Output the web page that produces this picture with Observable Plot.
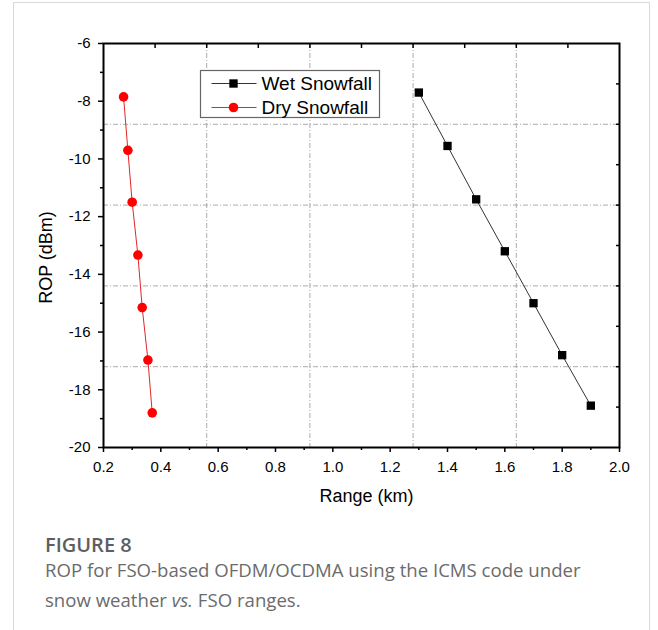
<!DOCTYPE html>
<html>
<head>
<meta charset="utf-8">
<script src="https://cdn.jsdelivr.net/npm/d3@7"></script>
<script src="https://cdn.jsdelivr.net/npm/@observablehq/plot@0.6"></script>
<style>
  html, body { margin: 0; padding: 0; background: #fff; width: 658px; height: 630px; overflow: hidden; }
  #card { position: absolute; left: 13px; top: 2px; width: 637px; height: 660px; border: 1px solid #d9d9d9; box-sizing: border-box; }
  #chart { position: absolute; left: 0; top: 0; }
  .cap { position: absolute; left: 45px; font-family: "Open Sans", sans-serif; color: #6b6b6b; white-space: nowrap; }
  #fig { top: 533px; font-size: 20px; line-height: 24px; font-weight: 600; color: #5e5e5e; }
  #txt { top: 555px; font-size: 18.6px; line-height: 29.5px; }
</style>
</head>
<body>
<div id="card"></div>
<div id="chart"></div>
<div class="cap" id="fig">FIGURE 8</div>
<div class="cap" id="txt">ROP for FSO-based OFDM/OCDMA using the ICMS code under<br>snow weather <i>vs.</i> FSO ranges.</div>
<script>
// Received optical power versus link range for two snowfall conditions
const wetRange = [1.3, 1.4, 1.5, 1.6, 1.7, 1.8, 1.9];
const wetROP   = [-7.7, -9.55, -11.4, -13.2, -15.0, -16.8, -18.55];
const dryRange = [0.27, 0.285, 0.30, 0.32, 0.335, 0.355, 0.37];
const dryROP   = [-7.85, -9.7, -11.5, -13.33, -15.15, -16.97, -18.8];

const seriesNames = ["Wet Snowfall", "Dry Snowfall"];

// axis ticks
const xTicks = [0.2, 0.4, 0.6, 0.8, 1.0, 1.2, 1.4, 1.6, 1.8, 2.0];
const xMinor = [0.3, 0.5, 0.7, 0.9, 1.1, 1.3, 1.5, 1.7, 1.9];
const yTicks = [-20, -18, -16, -14, -12, -10, -8, -6];
const yMinor = [-19, -17, -15, -13, -11, -9, -7];
// opposite axes and grid split the frame into tenths / fifths
const topTicks   = [0.38, 0.56, 0.74, 0.92, 1.10, 1.28, 1.46, 1.64, 1.82];
const rightTicks = [-7.4, -8.8, -10.2, -11.6, -13.0, -14.4, -15.8, -17.2, -18.6];
const gridX = [0.56, 0.92, 1.28, 1.64];
const gridY = [-8.8, -11.6, -14.4, -17.2];

const wet = wetRange.map((r, i) => ({range: r, rop: wetROP[i]}));
const dry = dryRange.map((r, i) => ({range: r, rop: dryROP[i]}));

const W = 658, H = 520;
const grid = {stroke: "#acacac", strokeWidth: 1, strokeDasharray: "5,2,1,2"};
const axisFont = 15;
const font = "'Liberation Sans', Arial, sans-serif";

const chart = Plot.plot({
  width: W,
  height: H,
  marginLeft: 103,
  marginRight: 39,
  marginTop: 43,
  marginBottom: 73,
  style: {fontFamily: font, color: "#000", background: "transparent"},
  x: {domain: [0.2, 2.0]},
  y: {domain: [-20, -6]},
  marks: [
    Plot.ruleX(gridX, {x: d => d, ...grid}),
    Plot.ruleY(gridY, {y: d => d, ...grid}),
    Plot.axisX(xTicks, {anchor: "bottom", tickSize: 5, tickPadding: 9, strokeWidth: 1.5, fontSize: axisFont, tickFormat: d3.format(".1f"), label: null}),
    Plot.axisX(xMinor, {anchor: "bottom", tickSize: 3, strokeWidth: 1.5, tickFormat: () => "", label: null}),
    Plot.axisY(yTicks, {anchor: "left", tickSize: 5, tickPadding: 8, strokeWidth: 1.5, fontSize: axisFont, tickFormat: d => String(d), label: null}),
    Plot.axisY(yMinor, {anchor: "left", tickSize: 3, strokeWidth: 1.5, tickFormat: () => "", label: null}),
    // inward ticks on the top and right edges
    Plot.axisX(topTicks, {anchor: "top", tickSize: 4, dy: 4, strokeWidth: 1.5, tickFormat: () => "", label: null}),
    Plot.axisY(rightTicks, {anchor: "right", tickSize: 4, dx: -4, strokeWidth: 1.5, tickFormat: () => "", label: null}),
    Plot.frame({stroke: "#000", strokeWidth: 2}),
    Plot.line(wet, {x: "range", y: "rop", stroke: "#333", strokeWidth: 1}),
    Plot.line(dry, {x: "range", y: "rop", stroke: "#e02828", strokeWidth: 1}),
    Plot.dot(wet, {x: "range", y: "rop", symbol: "square", fill: "#000", r: 4.7}),
    Plot.dot(dry, {x: "range", y: "rop", symbol: "circle", fill: "#ff0000", r: 4.8}),
    Plot.text(["ROP (dBm)"], {frameAnchor: "left", textAnchor: "middle", lineAnchor: "middle", dx: -57, dy: 12, rotate: -90, fontSize: 18, fill: "#000"}),
    Plot.text(["Range (km)"], {frameAnchor: "bottom", textAnchor: "middle", lineAnchor: "middle", dx: 5, dy: 49, fontSize: 18, fill: "#000"})
  ]
});

// legend box in the upper-left of the frame
const svg = d3.select(chart);
const lg = svg.append("g").attr("transform", "translate(200.5,70.5)");
lg.append("rect").attr("width", 179).attr("height", 47).attr("fill", "#fff").attr("stroke", "#666").attr("stroke-width", 1.2);
const legendStyles = [
  {line: "#333", fill: "#000", symbol: d3.symbolSquare, size: 70},
  {line: "#e02828", fill: "#ff0000", symbol: d3.symbolCircle, size: 72}
];
seriesNames.forEach((name, i) => {
  const row = lg.append("g").attr("transform", `translate(0,${13 + i * 24})`);
  const s = legendStyles[i];
  row.append("line").attr("x1", 11).attr("x2", 56).attr("y1", 0).attr("y2", 0)
    .attr("stroke", s.line).attr("stroke-width", 1);
  row.append("path").attr("transform", "translate(33,0)")
    .attr("d", d3.symbol(s.symbol, s.size)()).attr("fill", s.fill);
  row.append("text").attr("x", 61).attr("dy", "0.35em").attr("text-anchor", "start")
    .attr("font-size", 19).attr("font-family", font)
    .attr("fill", "#000").text(name);
});

document.getElementById("chart").appendChild(chart);
</script>
</body>
</html>
